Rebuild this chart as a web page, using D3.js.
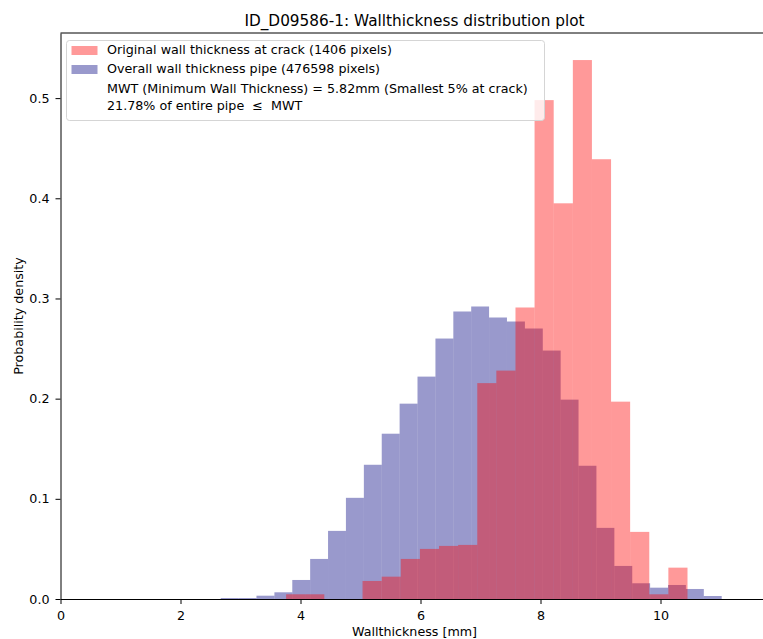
<!DOCTYPE html>
<html>
<head>
<meta charset="utf-8">
<script src="https://cdn.jsdelivr.net/npm/d3@7"></script>
<style>
  html, body { margin: 0; padding: 0; background: #fff; }
  svg { display: block; font-family: "DejaVu Sans", sans-serif; }
</style>
</head>
<body>
<svg id="chart" width="763" height="639"></svg>
<script>
// Histogram bin edges (mm) and densities for the whole pipe
const pipeEdges = [2.670, 2.968, 3.266, 3.565, 3.863, 4.161, 4.459, 4.757, 5.056, 5.354,
  5.652, 5.950, 6.249, 6.547, 6.845, 7.143, 7.441, 7.740, 8.038, 8.336,
  8.634, 8.932, 9.231, 9.529, 9.827, 10.125, 10.423, 10.722, 11.020];
const pipeDensity = [0.001, 0.001, 0.0033, 0.0067, 0.019, 0.040, 0.068, 0.101, 0.134, 0.165,
  0.195, 0.222, 0.260, 0.287, 0.292, 0.281, 0.277, 0.270, 0.248, 0.199,
  0.133, 0.071, 0.033, 0.0157, 0.0113, 0.014, 0.010, 0.003];

// Histogram bin edges (mm) and densities at the crack
const crackEdges = [3.760, 4.079, 4.397, 4.716, 5.034, 5.353, 5.671, 5.990, 6.309, 6.627,
  6.946, 7.264, 7.583, 7.901, 8.220, 8.539, 8.857, 9.176, 9.494, 9.813,
  10.131, 10.450];
const crackDensity = [0.0047, 0.0047, 0, 0, 0.018, 0.0223, 0.040, 0.050, 0.053, 0.054,
  0.2155, 0.228, 0.291, 0.498, 0.395, 0.538, 0.439, 0.197, 0.067, 0.0047,
  0.0313];

const xTicks = [0, 2, 4, 6, 8, 10];
const yTicks = [0.0, 0.1, 0.2, 0.3, 0.4, 0.5];

const titleText = "ID_D09586-1: Wallthickness distribution plot";
const xLabel = "Wallthickness [mm]";
const yLabel = "Probability density";
const legendLabels = [
  "Original wall thickness at crack (1406 pixels)",
  "Overall wall thickness pipe (476598 pixels)",
  "MWT (Minimum Wall Thickness) = 5.82mm (Smallest 5% at crack)",
  "21.78% of entire pipe  \u2264  MWT"
];

const svg = d3.select("#chart");
const W = 763, H = 639;
const plot = { left: 60.5, right: 768.5, top: 33, bottom: 599 };

const x = d3.scaleLinear().domain([0, 11.8]).range([plot.left, plot.right]);
const y = d3.scaleLinear().domain([0, 0.565]).range([plot.bottom, plot.top]);

svg.append("rect").attr("width", W).attr("height", H).attr("fill", "#fff");

const bins = (edges, vals) => vals.map((v, i) => ({ x0: edges[i], x1: edges[i + 1], v }));

function drawBars(data, color) {
  svg.append("g")
    .selectAll("rect")
    .data(data.filter(d => d.v > 0))
    .join("rect")
    .attr("x", d => x(d.x0))
    .attr("width", d => x(d.x1) - x(d.x0))
    .attr("y", d => y(d.v))
    .attr("height", d => y(0) - y(d.v))
    .attr("fill", color)
    .attr("fill-opacity", 0.4);
}

drawBars(bins(pipeEdges, pipeDensity), "navy");
drawBars(bins(crackEdges, crackDensity), "red");

// Axes
const fs = 12.7;
const xAxis = d3.axisBottom(x).tickValues(xTicks).tickFormat(d3.format("d"))
  .tickSize(5).tickSizeOuter(0).tickPadding(6.5);
const yAxis = d3.axisLeft(y).tickValues(yTicks).tickFormat(d3.format(".1f"))
  .tickSize(5).tickSizeOuter(0).tickPadding(6);

const gx = svg.append("g").attr("transform", `translate(0,${plot.bottom})`).call(xAxis);
const gy = svg.append("g").attr("transform", `translate(${plot.left},0)`).call(yAxis);
[gx, gy].forEach(g => {
  g.selectAll("text").attr("font-size", fs).attr("font-family", "DejaVu Sans").attr("fill", "#000");
  g.selectAll("line").attr("stroke", "#000").attr("stroke-width", 1);
  g.select(".domain").attr("stroke", "#000").attr("stroke-width", 1);
});

// Top and right spines
svg.append("line").attr("x1", plot.left).attr("x2", plot.right)
  .attr("y1", plot.top).attr("y2", plot.top).attr("stroke", "#000").attr("stroke-width", 1);
svg.append("line").attr("x1", plot.right).attr("x2", plot.right)
  .attr("y1", plot.top).attr("y2", plot.bottom).attr("stroke", "#000").attr("stroke-width", 1);

// Title and axis labels
const cx = (plot.left + plot.right) / 2;
svg.append("text").attr("x", cx).attr("y", 26).attr("text-anchor", "middle")
  .attr("font-size", 15.3).text(titleText);
svg.append("text").attr("x", cx).attr("y", 636).attr("text-anchor", "middle")
  .attr("font-size", fs).text(xLabel);
svg.append("text").attr("transform", `translate(23,${(plot.top + plot.bottom) / 2}) rotate(-90)`)
  .attr("text-anchor", "middle").attr("font-size", fs).text(yLabel);

// Legend
const lg = svg.append("g");
lg.append("rect").attr("x", 66.5).attr("y", 40.5).attr("width", 478).attr("height", 80)
  .attr("rx", 3).attr("fill", "#fff").attr("fill-opacity", 0.8)
  .attr("stroke", "#d5d5d5").attr("stroke-width", 1);
lg.append("rect").attr("x", 71.5).attr("y", 46).attr("width", 26).attr("height", 9)
  .attr("fill", "red").attr("fill-opacity", 0.4);
lg.append("rect").attr("x", 71.5).attr("y", 65).attr("width", 26).attr("height", 9)
  .attr("fill", "navy").attr("fill-opacity", 0.4);
const baselines = [54, 73, 92.5, 110];
legendLabels.forEach((t, i) => {
  lg.append("text").attr("x", 107).attr("y", baselines[i])
    .attr("font-size", fs).attr("xml:space", "preserve").style("white-space", "pre").text(t);
});
</script>
</body>
</html>
